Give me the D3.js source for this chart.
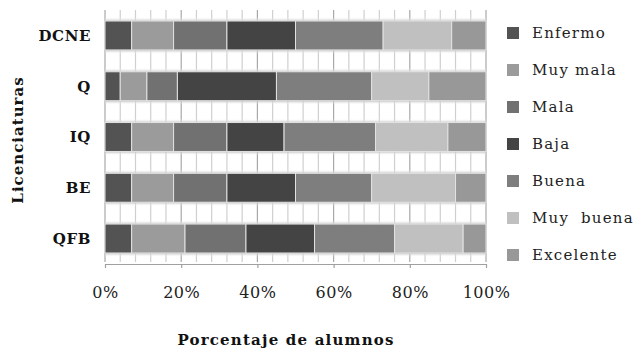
<!DOCTYPE html>
<html>
<head>
<meta charset="utf-8">
<script src="https://cdn.jsdelivr.net/npm/d3@7"></script>
<style>
  html, body { margin: 0; padding: 0; background: #fff; }
  svg { display: block; }
</style>
</head>
<body>
<div id="chart"></div>
<script>
// Programs (rows, top to bottom)
const programs = ["DCNE", "Q", "IQ", "BE", "QFB"];
// Rating categories, stacked left to right
const ratings = ["Enfermo", "Muy mala", "Mala", "Baja", "Buena", "Muy  buena", "Excelente"];
// Percent of students per rating, one array per program
const dcne = [7, 11, 14, 18, 23, 18, 9];
const q    = [4, 7, 8, 26, 25, 15, 15];
const iq   = [7, 11, 14, 15, 24, 19, 10];
const be   = [7, 11, 14, 18, 20, 22, 8];
const qfb  = [7, 14, 16, 18, 21, 18, 6];
const ratingColors = ["#535353", "#9b9b9b", "#717171", "#444444", "#7e7e7e", "#c0c0c0", "#989898"];
const xTicks = [0, 20, 40, 60, 80, 100];
const gridSteps = d3.range(0, 101, 4);

const rows = [dcne, q, iq, be, qfb];

const W = 641, H = 350;
const svg = d3.select("#chart").append("svg").attr("width", W).attr("height", H);

const x = d3.scaleLinear().domain([0, 100]).range([105, 486]);
const y = d3.scaleBand().domain(programs).range([10, 264]).paddingInner(0.43).paddingOuter(0.217);
const color = d3.scaleOrdinal().domain(ratings).range(ratingColors);

const serif = "'DejaVu Serif', serif";

// Shadow gradients for the gaps between bars
const defs = svg.append("defs");
const gDown = defs.append("linearGradient").attr("id", "shadeDown").attr("x1", 0).attr("x2", 0).attr("y1", 0).attr("y2", 1);
gDown.append("stop").attr("offset", "0%").attr("stop-color", "#b8b8b8").attr("stop-opacity", 0.9);
gDown.append("stop").attr("offset", "100%").attr("stop-color", "#ffffff").attr("stop-opacity", 0);
const gUp = defs.append("linearGradient").attr("id", "shadeUp").attr("x1", 0).attr("x2", 0).attr("y1", 1).attr("y2", 0);
gUp.append("stop").attr("offset", "0%").attr("stop-color", "#c4c4c4").attr("stop-opacity", 0.9);
gUp.append("stop").attr("offset", "100%").attr("stop-color", "#ffffff").attr("stop-opacity", 0);

const gridTop = 10, gridBottom = 262;

// Vertical gridlines
svg.append("g").selectAll("line").data(gridSteps).join("line")
  .attr("x1", d => x(d)).attr("x2", d => x(d))
  .attr("y1", gridTop).attr("y2", gridBottom)
  .attr("stroke", d => d % 20 === 0 ? "#a8a8a8" : "#cfcfcf")
  .attr("stroke-width", 1.2);

// Soft shading along the bar edges
const shade = svg.append("g");
programs.forEach(p => {
  const top = y(p), bot = y(p) + y.bandwidth();
  shade.append("rect").attr("x", x(0)).attr("width", x(100) - x(0))
    .attr("y", bot).attr("height", 4).attr("fill", "url(#shadeDown)");
  shade.append("rect").attr("x", x(0)).attr("width", x(100) - x(0))
    .attr("y", top - 4).attr("height", 4).attr("fill", "url(#shadeUp)");
});

// Stacked bars
const stackData = programs.map((p, i) => {
  const o = { program: p };
  ratings.forEach((r, j) => { o[r] = rows[i][j]; });
  return o;
});
const series = d3.stack().keys(ratings)(stackData);

svg.append("g").selectAll("g").data(series).join("g")
  .attr("fill", d => color(d.key))
  .selectAll("rect").data(d => d).join("rect")
  .attr("x", d => x(d[0]))
  .attr("width", d => x(d[1]) - x(d[0]))
  .attr("y", d => y(d.data.program))
  .attr("height", y.bandwidth())
  .attr("stroke", "#e2e2e2")
  .attr("stroke-width", 1);

// Bottom axis
const axis = svg.append("g").attr("transform", `translate(0,${gridBottom + 2})`)
  .call(d3.axisBottom(x).tickValues(xTicks).tickFormat(d => d + "%").tickSize(4).tickSizeOuter(0));
axis.select(".domain").attr("stroke", "#a0a0a0").attr("stroke-width", 1.2);
axis.selectAll(".tick line").attr("stroke", "#a0a0a0").attr("stroke-width", 1.2);
axis.selectAll(".tick text")
  .attr("y", 23)
  .attr("font-family", serif).attr("font-size", 16).attr("fill", "#222")
  .attr("letter-spacing", 0.5);

// Program labels
svg.append("g").selectAll("text").data(programs).join("text")
  .attr("x", 91)
  .attr("y", d => y(d) + y.bandwidth() / 2)
  .attr("dy", "0.36em")
  .attr("text-anchor", "end")
  .attr("font-family", serif).attr("font-weight", "bold").attr("font-size", 15)
  .attr("letter-spacing", 0.6)
  .attr("fill", "#111")
  .text(d => d);

// Axis titles
svg.append("text")
  .attr("x", 286).attr("y", 345)
  .attr("text-anchor", "middle")
  .attr("font-family", serif).attr("font-weight", "bold").attr("font-size", 15)
  .attr("letter-spacing", 1.2)
  .attr("fill", "#111")
  .text("Porcentaje de alumnos");

svg.append("text")
  .attr("transform", "translate(23,140) rotate(-90)")
  .attr("text-anchor", "middle")
  .attr("font-family", serif).attr("font-weight", "bold").attr("font-size", 15)
  .attr("letter-spacing", 1)
  .attr("fill", "#111")
  .text("Licenciaturas");

// Legend
const legend = svg.append("g").selectAll("g").data(ratings).join("g")
  .attr("transform", (d, i) => `translate(507,${33 + i * 37})`);
legend.append("rect")
  .attr("x", 0).attr("y", -6).attr("width", 12).attr("height", 12)
  .attr("fill", d => color(d));
legend.append("text")
  .attr("x", 25).attr("y", 0).attr("dy", "0.36em")
  .attr("font-family", serif).attr("font-size", 15)
  .attr("letter-spacing", 1.2)
  .attr("fill", "#222")
  .attr("xml:space", "preserve")
  .style("white-space", "pre")
  .text(d => d);
</script>
</body>
</html>
